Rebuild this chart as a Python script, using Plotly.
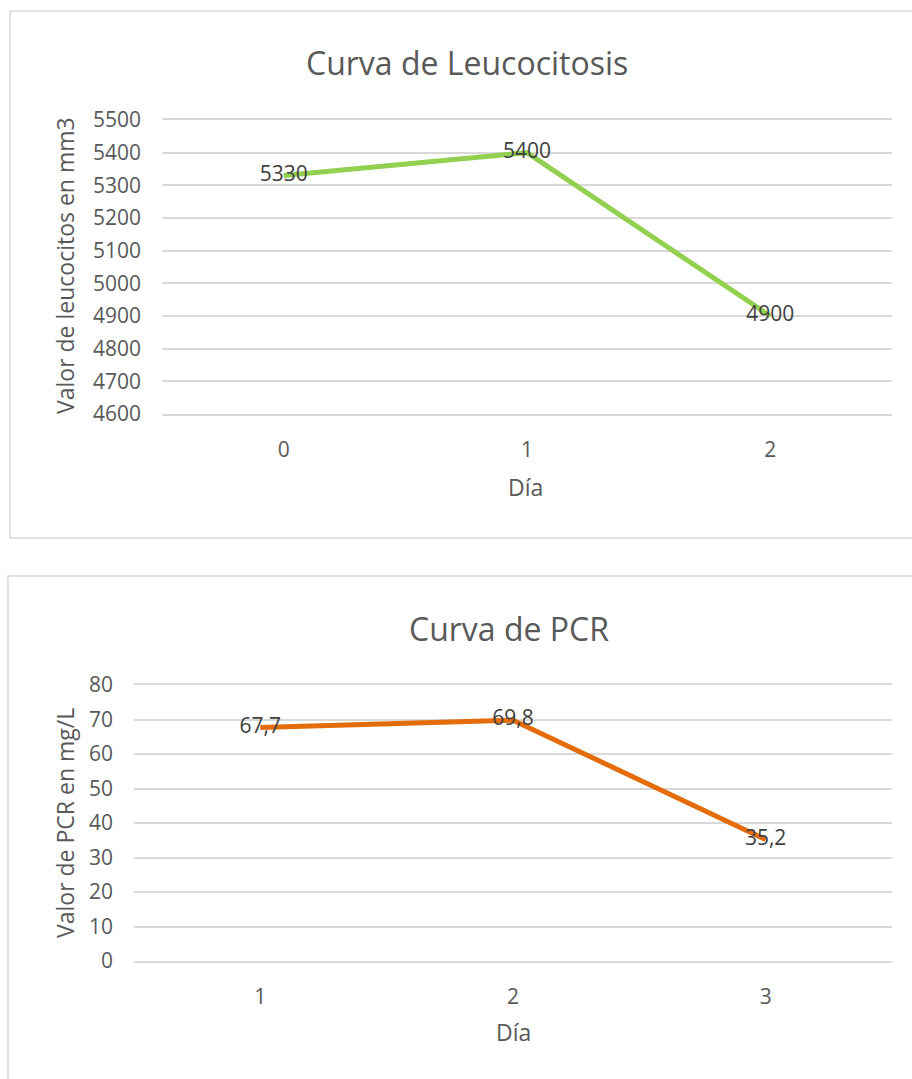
import plotly.graph_objects as go

# Leucocitosis series
dias_leuco = [0, 1, 2]
leucocitos = [5330, 5400, 4900]
leuco_labels = ["5330", "5400", "4900"]

# PCR series
dias_pcr = [1, 2, 3]
pcr = [67.7, 69.8, 35.2]
pcr_labels = ["67,7", "69,8", "35,2"]

W, H = 912, 1079
FONT = "Open Sans"
TICK_COLOR = "#595959"
LABEL_COLOR = "#404040"
GRID = "#D9D9D9"


def px_x(x):
    return x / W


def px_y(y):
    return 1 - y / H


fig = go.Figure()

fig.add_trace(go.Scatter(
    x=dias_leuco, y=leucocitos, mode="lines+text",
    text=leuco_labels, textposition="middle center",
    textfont=dict(family=FONT, size=21, color=LABEL_COLOR),
    line=dict(color="#92D050", width=5),
    xaxis="x", yaxis="y", hoverinfo="skip", cliponaxis=False,
))

fig.add_trace(go.Scatter(
    x=dias_pcr, y=pcr, mode="lines+text",
    text=pcr_labels, textposition="middle center",
    textfont=dict(family=FONT, size=21, color=LABEL_COLOR),
    line=dict(color="#E46C0A", width=5),
    xaxis="x2", yaxis="y2", hoverinfo="skip", cliponaxis=False,
))

# x axes draw the top and bottom gridlines as mirrored axis lines
common_x = dict(
    showgrid=False, zeroline=False, showline=True, mirror=True,
    linecolor=GRID, linewidth=1.5, ticks="",
    tickfont=dict(family=FONT, size=21, color=TICK_COLOR),
    ticklabelstandoff=16, fixedrange=True, automargin=False,
)
common_y = dict(
    showgrid=True, gridcolor=GRID, gridwidth=1.5, zeroline=False,
    showline=False, ticks="",
    tickfont=dict(family=FONT, size=21, color=TICK_COLOR),
    ticklabelstandoff=20, fixedrange=True, automargin=False,
)

fig.update_layout(
    template="none",
    width=W, height=H,
    margin=dict(l=0, r=0, t=0, b=0, autoexpand=False),
    paper_bgcolor="white", plot_bgcolor="white",
    showlegend=False,
    xaxis=dict(domain=[px_x(162), px_x(892)], range=[-0.5, 2.5],
               tickvals=dias_leuco, ticktext=[str(d) for d in dias_leuco],
               anchor="y", **common_x),
    yaxis=dict(domain=[px_y(414), px_y(120)], range=[4600, 5500],
               dtick=100, tick0=4600, anchor="x", **common_y),
    xaxis2=dict(domain=[px_x(134), px_x(892)], range=[0.5, 3.5],
                tickvals=dias_pcr, ticktext=[str(d) for d in dias_pcr],
                anchor="y2", **common_x),
    yaxis2=dict(domain=[px_y(961), px_y(685)], range=[0, 80],
                dtick=10, tick0=0, anchor="x2", **common_y),
)

# chart frames
fig.add_shape(type="rect", xref="paper", yref="paper",
              x0=px_x(10), x1=px_x(930), y0=px_y(538), y1=px_y(11),
              line=dict(color=GRID, width=1.5), layer="below")
fig.add_shape(type="rect", xref="paper", yref="paper",
              x0=px_x(8), x1=px_x(930), y0=px_y(1100), y1=px_y(576),
              line=dict(color=GRID, width=1.5), layer="below")

title_font = dict(family=FONT, size=32, color=TICK_COLOR)
axis_font = dict(family=FONT, size=23, color=TICK_COLOR)

texts = [
    ("Curva de Leucocitosis", 467, 62, 0, title_font),
    ("Día", 525, 487, 0, axis_font),
    ("Valor de leucocitos en mm3", 65, 266, -90, axis_font),
    ("Curva de PCR", 509, 628, 0, title_font),
    ("Día", 513, 1032, 0, axis_font),
    ("Valor de PCR en mg/L", 65, 823, -90, axis_font),
]
for txt, x, y, ang, f in texts:
    fig.add_annotation(text=txt, xref="paper", yref="paper",
                       x=px_x(x), y=px_y(y), xanchor="center", yanchor="middle",
                       showarrow=False, textangle=ang, font=f)

fig.write_html("out.html")
